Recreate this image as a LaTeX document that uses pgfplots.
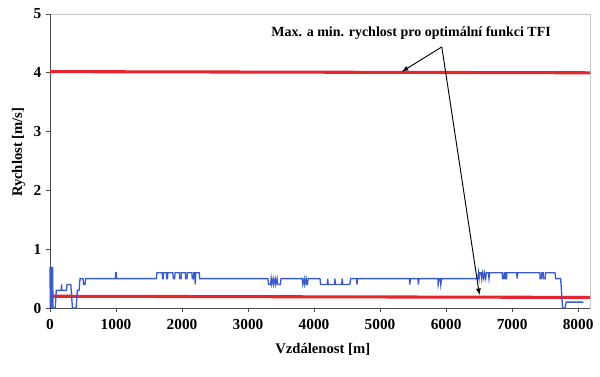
\documentclass[border=0pt]{standalone}
\usepackage{pgfplots}
\pgfplotsset{compat=1.18}
\usepackage{fontspec}
\setmainfont{Liberation Serif}
\definecolor{blueline}{HTML}{3A5CC8}
\definecolor{redline}{HTML}{E8242E}
\begin{document}
\begin{tikzpicture}[x=0.75pt,y=0.75pt]
\useasboundingbox (0,0) rectangle (600,377);
\begin{axis}[
  at={(50*0.75pt,69*0.75pt)}, anchor=south west,
  scale only axis, width=540*0.75pt, height=294*0.75pt,
  xmin=0, xmax=8180, ymin=0, ymax=5,
  xtick={0,1000,...,8000}, ytick={0,1,...,5},
  tick pos=left, tick align=outside,
  major tick length=3pt,
  tick style={black!70, line width=0.6pt},
  axis line style={gray!45, line width=0.6pt},
  /pgf/number format/assume math mode=true,
  /pgf/number format/1000 sep={},
  ticklabel style={font=\fontsize{11.5}{13}\selectfont\bfseries},
  xticklabel style={yshift=-2pt},
  xlabel={Vzdálenost [m]}, ylabel={Rychlost [m/s]},
  label style={font=\fontsize{11}{13}\selectfont\bfseries},
  xlabel style={at={(axis description cs:0.505,0)}, anchor=north, yshift=-23pt},
  ylabel style={at={(axis description cs:0,0.53)}, anchor=south, yshift=15pt},
  clip=false,
]
\draw[black!70, line width=0.7pt] (rel axis cs:0,1) -- (rel axis cs:0,0) -- (rel axis cs:1,0);
\addplot[redline, line width=2.3pt] coordinates {(0,4.02) (8180,4.0)};
\addplot[redline, line width=2.3pt] coordinates {(0,0.20) (8180,0.18)};
\addplot[blueline, line width=1pt] coordinates {
(0,0.7)(5,0)(10,0.7)(15,0)(20,0.7)(25,0)(30,0.7)(35,0)(40,0.7)(45,0)(80,0)(95,0.3)(170,0.3)(175,0.4)(180,0.3)(250,0.3)(258,0.4)(315,0.4)(340,0)(395,0)(415,0.3)(440,0.3)(455,0.5)(500,0.5)(508,0.4)(530,0.4)(540,0.5)
(990,0.5)(994,0.6)(1004,0.6)(1008,0.5)
(1610,0.5)(1620,0.6)(1700,0.6)(1705,0.5)(1715,0.5)(1720,0.6)(1765,0.6)(1770,0.5)(1780,0.5)(1785,0.6)(1860,0.6)(1868,0.5)(1888,0.5)(1895,0.6)(1960,0.6)(1965,0.5)(1985,0.5)(1990,0.6)(2050,0.6)(2055,0.5)(2075,0.5)(2080,0.6)(2150,0.6)(2155,0.5)(2175,0.5)(2180,0.6)(2195,0.6)(2200,0.4)(2208,0.6)(2260,0.6)(2268,0.5)
(3300,0.5)(3310,0.4)(3340,0.4)(3350,0.5)(3360,0.4)(3380,0.5)(3390,0.4)(3410,0.5)(3420,0.4)(3440,0.5)(3450,0.4)(3490,0.4)(3500,0.5)
(3820,0.5)(3830,0.4)(3850,0.5)(3860,0.4)(3880,0.5)(3890,0.4)(3900,0.4)(3910,0.5)
(4090,0.5)(4100,0.4)(4200,0.4)(4205,0.5)(4215,0.4)(4310,0.4)(4315,0.5)(4325,0.4)(4420,0.4)(4425,0.5)(4435,0.4)(4540,0.4)(4555,0.5)
(4645,0.5)(4650,0.4)(4660,0.5)
(5445,0.5)(5450,0.4)(5460,0.5)(5575,0.5)(5580,0.4)(5590,0.5)(5875,0.5)(5880,0.4)(5895,0.5)(5915,0.5)(5920,0.4)(5935,0.5)
(6480,0.5)(6490,0.6)(6500,0.5)(6510,0.6)(6530,0.6)(6540,0.5)(6550,0.6)(6570,0.5)(6580,0.6)(6600,0.5)(6610,0.6)(6640,0.6)(6650,0.5)(6660,0.6)
(6850,0.6)(6855,0.5)(6875,0.5)(6880,0.6)(6895,0.6)(6900,0.5)(6915,0.5)(6920,0.6)
(7070,0.6)(7075,0.5)(7085,0.6)
(7420,0.6)(7425,0.5)(7445,0.5)(7450,0.6)(7470,0.6)(7475,0.5)(7500,0.5)(7505,0.6)
(7650,0.6)(7660,0.5)(7735,0.5)(7765,0)(7800,0)(7820,0.1)(8080,0.1)
};
\node[font=\fontsize{10.5}{12}\selectfont\bfseries] at (axis cs:5470,4.68) {Max. a min. rychlost pro optimální funkci TFI};
\draw[black, line width=0.7pt, -latex] (axis cs:5935,4.44) -- (axis cs:5330,4.02);
\draw[black, line width=0.7pt, -latex] (axis cs:5935,4.44) -- (axis cs:6505,0.22);
\end{axis}
\end{tikzpicture}
\end{document}
